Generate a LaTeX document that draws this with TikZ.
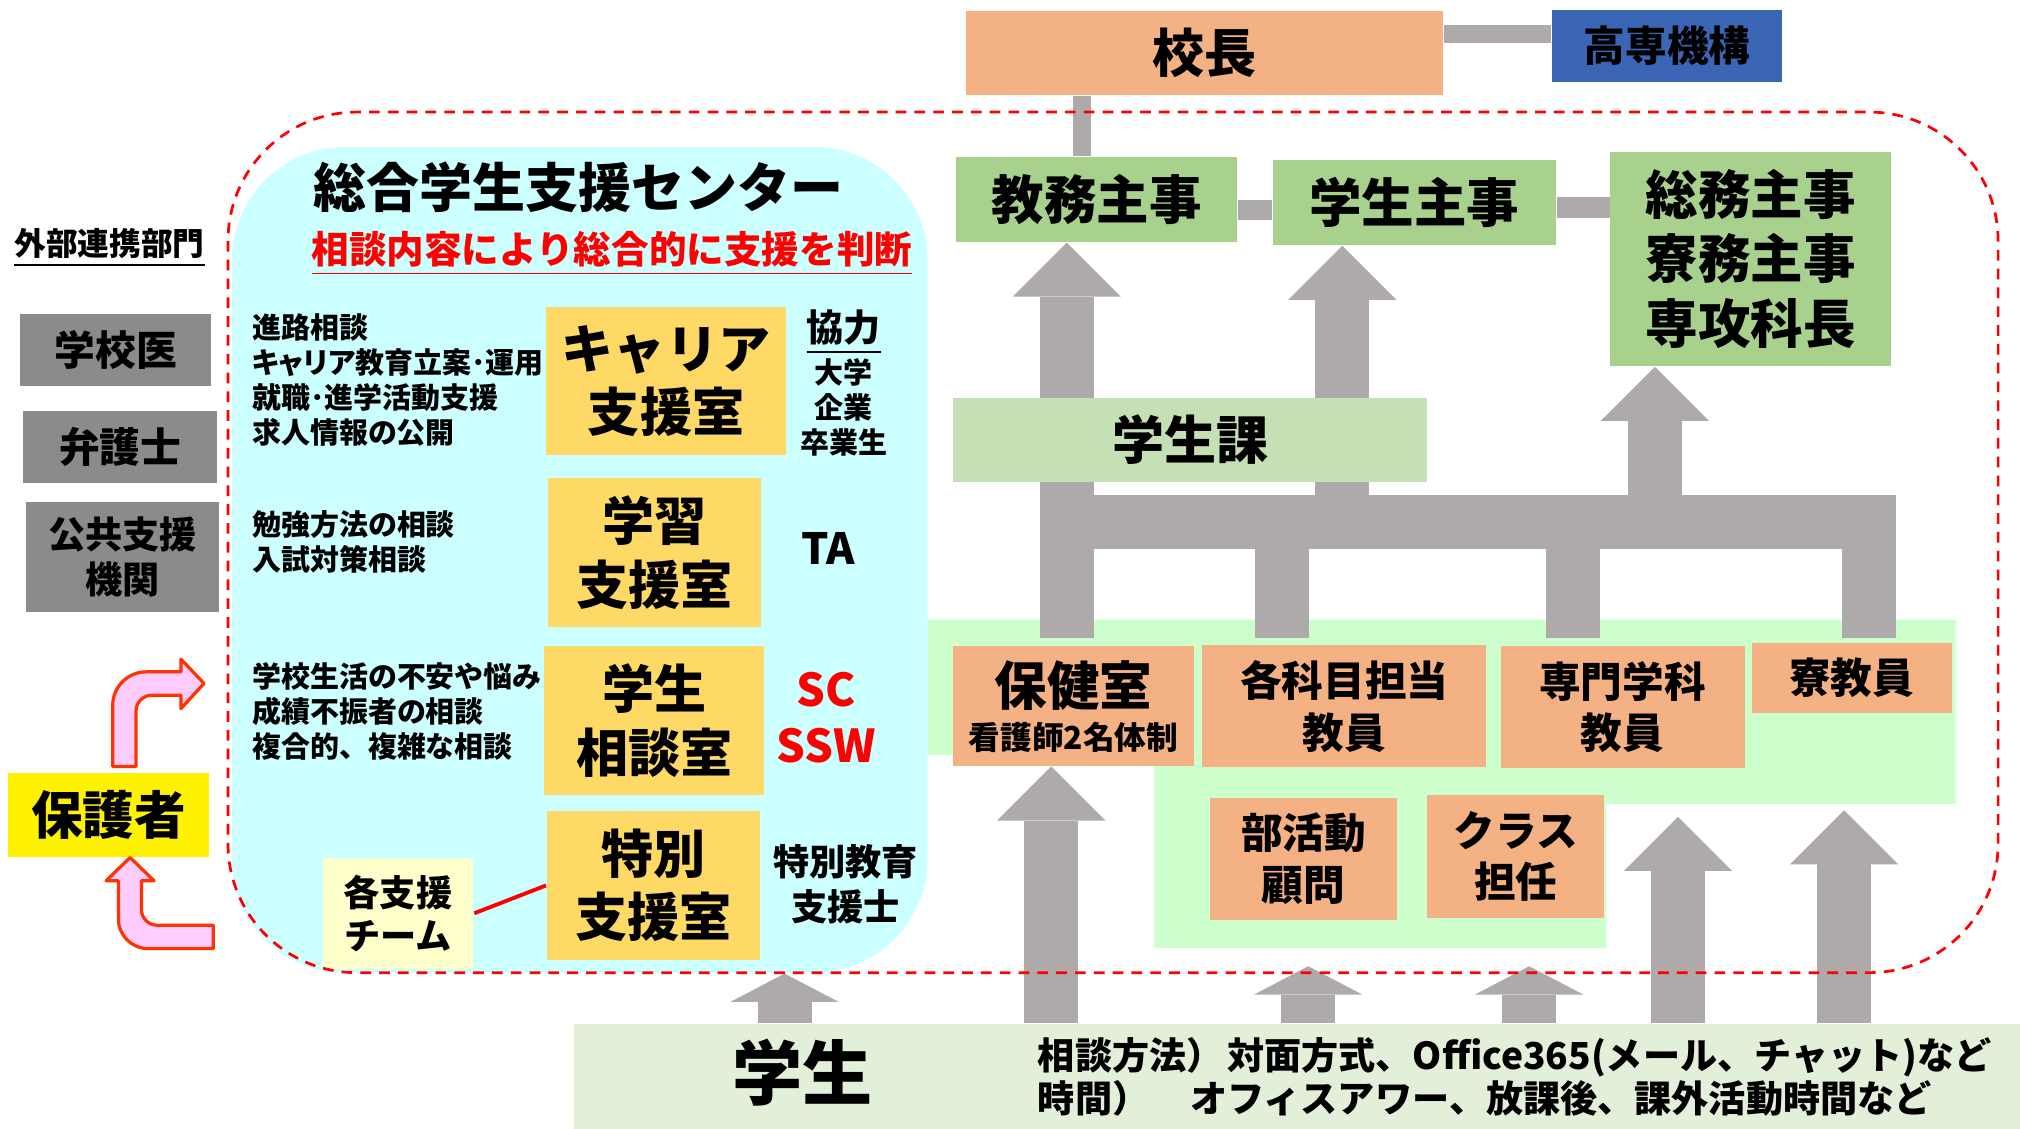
\documentclass[tikz,border=0pt]{standalone}
\usepackage{fontspec}
\setmainfont{Noto Sans CJK JP}
\usetikzlibrary{arrows.meta,calc}

\definecolor{kochoorange}{HTML}{F4B183}
\definecolor{kikoublue}{HTML}{3A66B5}
\definecolor{shujigreen}{HTML}{A9D18E}
\definecolor{kagreen}{HTML}{C5E0B4}
\definecolor{gakuseigreen}{HTML}{E2F0D9}
\definecolor{areagreen}{HTML}{CCFFCC}
\definecolor{centercyan}{HTML}{CCFFFF}
\definecolor{roomyellow}{HTML}{FFD966}
\definecolor{teamyellow}{HTML}{FFFFCC}
\definecolor{outgray}{HTML}{8B8B8B}
\definecolor{arrowgray}{HTML}{AEAAAA}
\definecolor{pinkfill}{HTML}{FFCCFF}
\definecolor{pinkline}{HTML}{FF3300}

\newcommand\fsz[2]{\fontsize{#1}{#2}\selectfont}

\pgfdeclarelayer{arealayer}
\pgfdeclarelayer{graylayer}
\pgfsetlayers{arealayer,graylayer,main}

\begin{document}
\begin{tikzpicture}[x=0.1mm,y=-0.1mm,
  box/.style={inner sep=0pt, align=center},
  room/.style={box, fill=roomyellow, font=\bfseries\fsz{11.5}{14}},
  staff/.style={box, fill=kochoorange, font=\bfseries\fsz{9.2}{11.4}},
  shuji/.style={box, fill=shujigreen, font=\bfseries\fsz{11.6}{14.2}},
  outside/.style={box, fill=outgray, font=\bfseries\fsz{9}{10}},
  desc/.style={inner sep=0pt, align=left, anchor=west, font=\bfseries\fsz{6.4}{7.75}},
  grayline/.style={draw=arrowgray, line width=1.4mm},
  bigline/.style={draw=arrowgray, line width=4.2mm},
  bigarrow/.style={bigline, -{Triangle[length=4.2mm,width=8.4mm,line width=0pt]}},
  smallarrow/.style={bigline, -{Triangle[length=2.2mm,width=8.4mm,line width=0pt]}},
  pinkarrow/.style={fill=pinkfill, draw=pinkline, line width=0.25mm, line join=round}]

\useasboundingbox (0,0) rectangle (1568,876);

% center
\node[box, fill=centercyan, rounded corners=8.8mm, minimum width=54mm, minimum height=64.1mm] (center) at (450,434.5) {};
\node[font=\bfseries\fsz{11.7}{14}] (title) at (449,145) {総合学生支援センター};
\node[font=\bfseries\fsz{8.3}{10}, text=red] (handan) at (475,197) {\underline{相談内容により総合的に支援を判断}};

\node[room, minimum width=18.6mm, minimum height=11.55mm] (career) at (517,295.8) {キャリア\\支援室};
\node[room, minimum width=16.55mm, minimum height=11.55mm] (gakushu) at (508.3,428.8) {学習\\支援室};
\node[room, minimum width=17.07mm, minimum height=11.55mm] (soudan) at (508,559.3) {学生\\相談室};
\node[room, minimum width=16.55mm, minimum height=11.54mm] (tokubetsu) at (507.3,687.3) {特別\\支援室};
\node[box, fill=teamyellow, minimum width=11.7mm, minimum height=8.58mm, font=\bfseries\fsz{8}{9.5}] (team) at (309,708.9) {各支援\\チーム};
\draw[red, line width=0.3mm] (team.east) -- (tokubetsu.west);

\node[desc, font=\bfseries\fsz{6.4}{7.75}\addfontfeatures{RawFeature=+palt}] (careerdesc) at (195,295) {進路相談\\キャリア教育立案･運用\\就職･進学活動支援\\求人情報の公開};
\node[desc] (gakushudesc) at (195,420.5) {勉強方法の相談\\入試対策相談};
\node[desc] (soudandesc) at (195,552.5) {学校生活の不安や悩み\\成績不振者の相談\\複合的、複雑な相談};

\node[font=\bfseries\fsz{8.2}{10}] (kyoryoku) at (655,258) {\underline{協力}};
\node[align=center, font=\bfseries\fsz{6.4}{7.7}] (kyoryokusaki) at (655,316) {大学\\企業\\卒業生};
\node[font=\bfseries\fsz{9.5}{11}] (ta) at (643,426) {TA};
\node[align=center, text=red, font=\bfseries\fsz{10}{12.5}] (scssw) at (641,557) {SC\\SSW};
\node[align=center, font=\bfseries\fsz{8}{10}] (tokushi) at (656.5,686.5) {特別教育\\支援士};

% outside
\node[font=\bfseries\fsz{7}{8.4}, inner sep=0pt] (gaibu) at (85,192.5) {\underline{外部連携部門}};
\node[outside, minimum width=14.83mm, minimum height=5.54mm] (gakkoi) at (89.9,271.7) {学校医};
\node[outside, minimum width=15.08mm, minimum height=5.57mm] (bengoshi) at (93.4,346.9) {弁護士};
\node[outside, minimum width=15mm, minimum height=8.5mm, font=\bfseries\fsz{8.2}{10}] (kokyo) at (95,432.5) {公共支援\\機関};
\node[box, fill=yellow, minimum width=15.58mm, minimum height=6.46mm, font=\bfseries\fsz{11.4}{13}] (hogosha) at (84.4,632.7) {保護者};

\draw[pinkarrow] (87.5,595) -- (87.5,547.5) arc[start angle=180,end angle=270,radius=26] -- (140.5,521.5) -- (140.5,511.7) -- (158.4,530.5) -- (140.5,550) -- (140.5,539.6) -- (118,539.6) arc[start angle=270,end angle=180,radius=12.4] -- (105.6,595) -- cycle;
\draw[pinkarrow] (165.6,718.2) -- (122,718.2) arc[start angle=90,end angle=180,radius=12.2] -- (109.8,683.7) -- (119.6,683.7) -- (101,665.6) -- (82.3,683.7) -- (91.9,683.7) -- (91.9,713.3) arc[start angle=180,end angle=90,radius=23] -- (165.6,736.3) -- cycle;

% top
\node[box, fill=kochoorange, minimum width=37mm, minimum height=6.5mm, font=\bfseries\fsz{11.5}{14}] (kocho) at (935,41) {校長};
\node[box, fill=kikoublue, minimum width=17.8mm, minimum height=5.56mm, font=\bfseries\fsz{9.2}{11}] (kikou) at (1294,35.6) {高専機構};
\node[shuji, minimum width=21.85mm, minimum height=6.6mm] (kyomu) at (851.3,154.6) {教務主事};
\node[shuji, minimum width=21.95mm, minimum height=6.6mm] (gshuji) at (1097.8,157) {学生主事};
\node[shuji, minimum width=21.77mm, minimum height=16.62mm] (somu) at (1358.9,200.9) {総務主事\\寮務主事\\専攻科長};
\node[box, fill=kagreen, minimum width=36.8mm, minimum height=6.53mm, font=\bfseries\fsz{11.5}{14}] (gka) at (924,341.4) {学生課};

% teachers
\begin{pgfonlayer}{arealayer}
\fill[areagreen] (720,481) -- (1518,481) -- (1518,624) -- (1247,624) -- (1247,736) -- (896,736) -- (896,586) -- (720,586) -- cycle;
\end{pgfonlayer}
\node[box, fill=kochoorange, minimum width=18.67mm, minimum height=9.27mm] (hoken) at (833.3,547.9) {};
\node[font=\bfseries\fsz{11.6}{14}] (hokenname) at (833.3,531.8) {保健室};
\node[font=\bfseries\fsz{7}{8}] (hokensub) at (833.3,572) {看護師2名体制};
\node[staff, minimum width=22.06mm, minimum height=9.5mm] (kamoku) at (1043.5,548.2) {各科目担当\\教員};
\node[staff, minimum width=18.95mm, minimum height=9.5mm] (senmon) at (1259.5,549) {専門学科\\教員};
\node[staff, minimum width=15.53mm, minimum height=5.48mm] (ryo) at (1437.3,526.4) {寮教員};
\node[staff, minimum width=14.54mm, minimum height=9.47mm] (bukatsu) at (1011.9,666.4) {部活動\\顧問};
\node[staff, minimum width=13.73mm, minimum height=9.52mm] (klass) at (1176.7,664.8) {クラス\\担任};

% student
\node[box, fill=gakuseigreen, minimum width=112.24mm, minimum height=8.16mm] (gakusei) at (1006.8,835.8) {};
\node[font=\bfseries\fsz{15.5}{18}] (gakuseiname) at (623,833) {学生};
\node[inner sep=0pt, align=left, anchor=west, font=\bfseries\fsz{8.2}{9.6}] (houhou) at (805,836) {相談方法）\hspace{0.1em}対面方式、Office365(メール、チャット)など\\時間）\hspace{1.1em}オフィスアワー、放課後、課外活動時間など};

\coordinate (areaK) at (1015.5,750);
\coordinate (areaC) at (1187,750);
\coordinate (areaR) at (1302.5,634);
\coordinate (areaD) at (1431.5,629);

\begin{pgfonlayer}{graylayer}
\draw[grayline] (kocho.east |- 0,26.5) -- (kikou.west |- 0,26.5);
\draw[grayline] (840,0 |- kocho.south) -- (840,0 |- kyomu.north);
\draw[grayline, line width=1.6mm] (kyomu.east |- 0,163) -- (gshuji.west |- 0,163);
\draw[grayline, line width=1.6mm] (gshuji.east |- 0,161) -- (somu.west |- 0,161);
\draw[bigline] (807,405) -- (1472,405);
\foreach \x in {828,995,1221,1451}
  \draw[bigline] (\x,405) -- (\x,495);
\foreach \x/\target in {828/kyomu,1042/gshuji,1284.5/somu}
  \draw[bigarrow] (\x,405) -- (\x,0 |- \target.south);
\draw[bigarrow] (816,0 |- gakusei.north) -- (816,0 |- hoken.south);
\draw[smallarrow] (609,0 |- gakusei.north) -- (609,0 |- center.south);
\foreach \c in {areaK,areaC}
  \draw[smallarrow] (\c |- gakusei.north) -- (\c);
\foreach \c in {areaR,areaD}
  \draw[bigarrow] (\c |- gakusei.north) -- (\c);
\end{pgfonlayer}

\draw[red, line width=0.6pt, dash pattern=on 0.83mm off 0.63mm, rounded corners=10mm] (177,87) rectangle (1551,755);
\end{tikzpicture}
\end{document}
